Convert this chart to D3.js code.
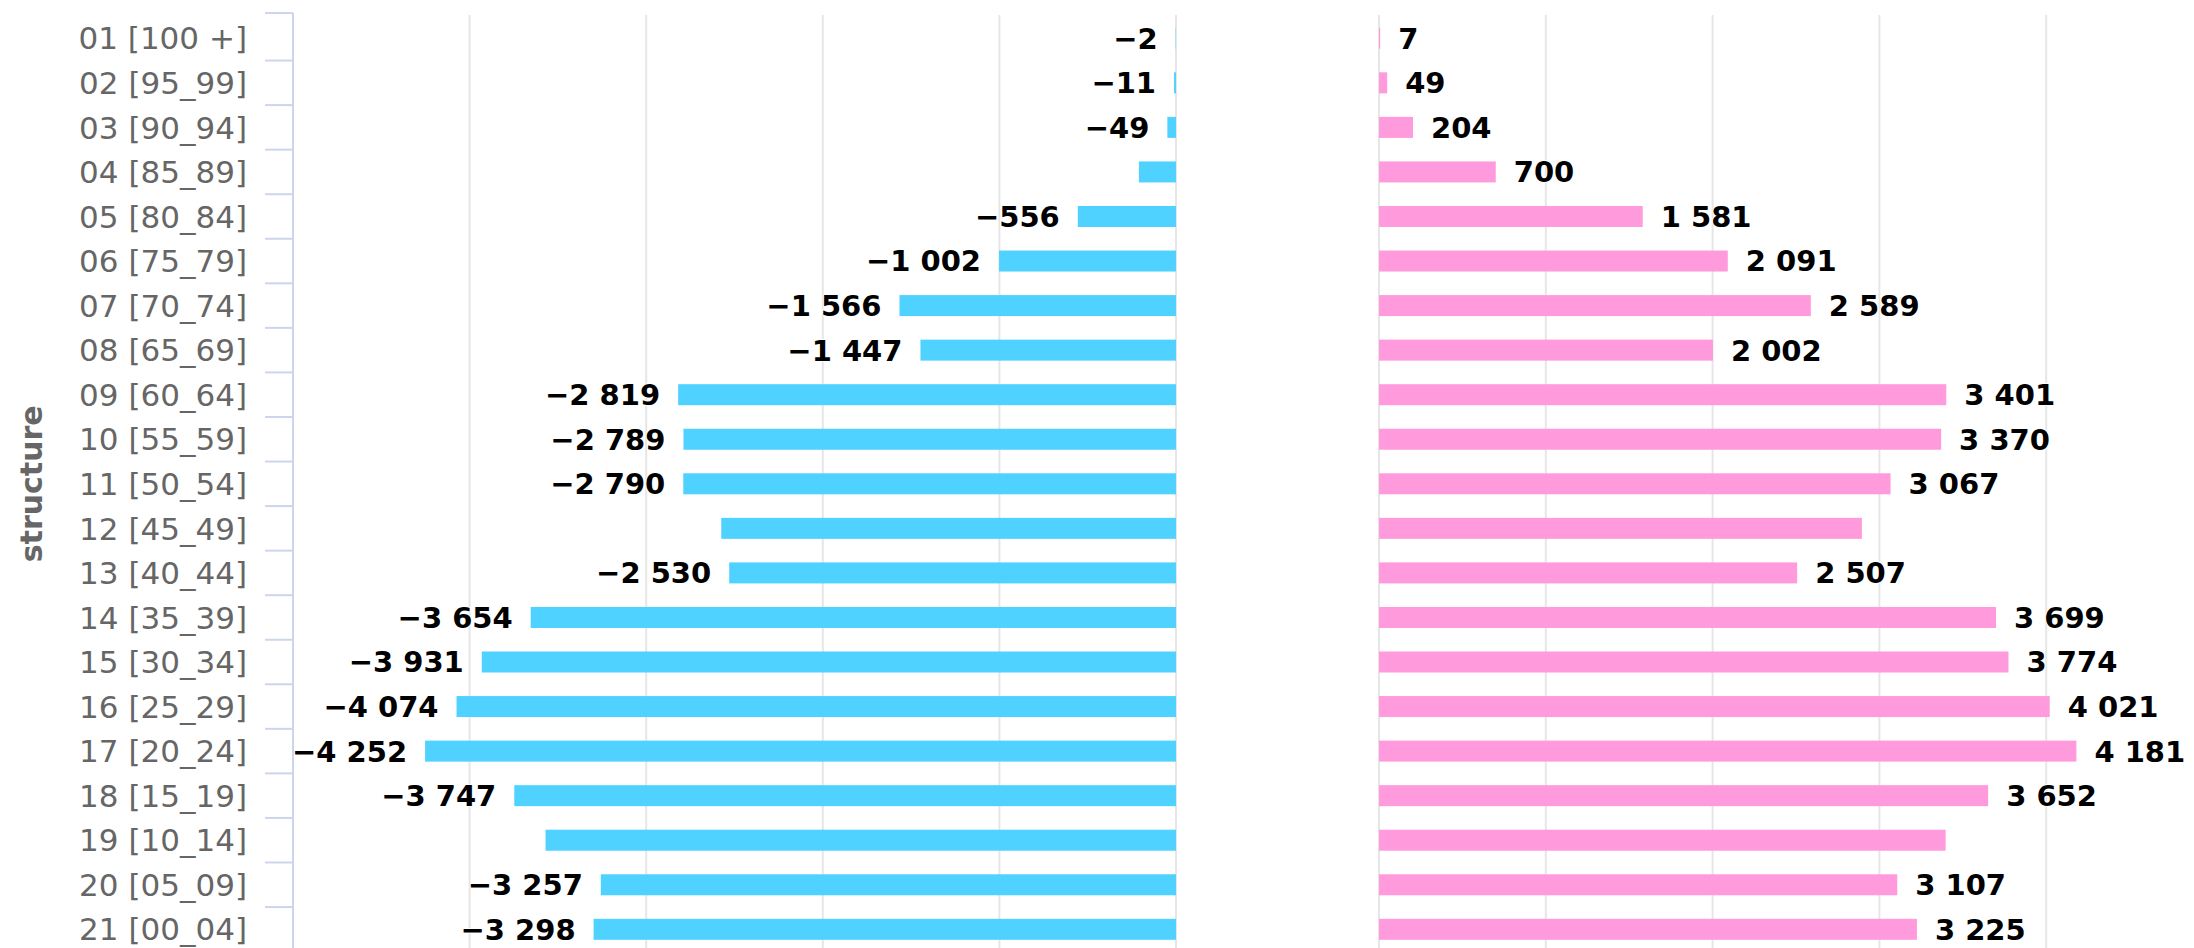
<!DOCTYPE html>
<html>
<head>
<meta charset="utf-8">
<script src="https://cdn.jsdelivr.net/npm/d3@7"></script>
<style>
  body { margin: 0; background: #fff; }
  svg { display: block; font-family: "DejaVu Sans", Verdana, sans-serif; }
</style>
</head>
<body>
<script>
// Age groups, top to bottom
const categories = [
    '01 [100 +]', '02 [95_99]', '03 [90_94]', '04 [85_89]', '05 [80_84]', '06 [75_79]',
    '07 [70_74]', '08 [65_69]', '09 [60_64]', '10 [55_59]', '11 [50_54]', '12 [45_49]',
    '13 [40_44]', '14 [35_39]', '15 [30_34]', '16 [25_29]', '17 [20_24]', '18 [15_19]',
    '19 [10_14]', '20 [05_09]', '21 [00_04]'
];

// Left series (negative) and right series
const male = [-2, -11, -49, -210, -556, -1002, -1566, -1447, -2819, -2789, -2790, -2575,
    -2530, -3654, -3931, -4074, -4252, -3747, -3570, -3257, -3298];
const female = [7, 49, 204, 700, 1581, 2091, 2589, 2002, 3401, 3370, 3067, 2895,
    2507, 3699, 3774, 4021, 4181, 3652, 3397, 3107, 3225];

// Labels that the original chart leaves out (overlap hiding)
const hiddenMale = ['04 [85_89]', '12 [45_49]', '19 [10_14]'];
const hiddenFemale = ['12 [45_49]', '19 [10_14]'];

const leftTicks = [-5000, -4000, -3000, -2000, -1000, 0];
const rightTicks = [0, 1000, 2000, 3000, 4000, 5000];

const width = 2194, height = 948;

const svg = d3.select("body").append("svg")
    .attr("width", width)
    .attr("height", height);

// Scales
const y = d3.scaleBand().domain(categories).range([16, 951.6]);
const xL = d3.scaleLinear().domain([-5000, 0]).range([293, 1176]);
const xR = d3.scaleLinear().domain([0, 5000]).range([1379, 2213]);
const barH = 21;

const fmt = d3.formatLocale({
    decimal: ".", thousands: " ", grouping: [3], currency: ["", ""], minus: "\u2212"
}).format(",");

// Grid lines
const grid = svg.append("g");
grid.selectAll("line.gl")
    .data(leftTicks)
    .enter().append("line")
    .attr("x1", d => xL(d)).attr("x2", d => xL(d))
    .attr("y1", 15).attr("y2", height)
    .attr("stroke", "#e6e6e6").attr("stroke-width", 2);
grid.selectAll("line.gr")
    .data(rightTicks)
    .enter().append("line")
    .attr("x1", d => xR(d)).attr("x2", d => xR(d))
    .attr("y1", 15).attr("y2", height)
    .attr("stroke", "#e6e6e6").attr("stroke-width", 2);

// Category axis
const yAxis = svg.append("g");
yAxis.append("line")
    .attr("x1", 293).attr("x2", 293)
    .attr("y1", 13).attr("y2", height)
    .attr("stroke", "#ccd6eb").attr("stroke-width", 2);

const bounds = categories.map(c => y(c)).concat([y.range()[1]]);
yAxis.selectAll("line.tick")
    .data(bounds)
    .enter().append("line")
    .attr("x1", 265).attr("x2", 293)
    .attr("y1", (d, i) => i === 0 ? 13 : d)
    .attr("y2", (d, i) => i === 0 ? 13 : d)
    .attr("stroke", "#ccd6eb").attr("stroke-width", 2);

yAxis.selectAll("text")
    .data(categories)
    .enter().append("text")
    .attr("x", 247)
    .attr("y", d => y(d) + y.bandwidth() / 2)
    .attr("dy", "0.36em")
    .attr("text-anchor", "end")
    .attr("fill", "#666666")
    .style("font-size", "31px")
    .text(d => d);

svg.append("text")
    .attr("transform", `translate(42, ${(y.range()[0] + y.range()[1]) / 2}) rotate(-90)`)
    .attr("text-anchor", "middle")
    .attr("fill", "#666666")
    .style("font-size", "30px")
    .style("font-weight", "bold")
    .text("structure");

// Bars
const maleData = categories.map((c, i) => ({ cat: c, v: male[i] }));
const femaleData = categories.map((c, i) => ({ cat: c, v: female[i] }));

svg.append("g").selectAll("rect")
    .data(maleData)
    .enter().append("rect")
    .attr("x", d => xL(d.v))
    .attr("y", d => y(d.cat) + y.bandwidth() / 2 - barH / 2)
    .attr("width", d => xL(0) - xL(d.v))
    .attr("height", barH)
    .attr("fill", "#4fd2ff");

svg.append("g").selectAll("rect")
    .data(femaleData)
    .enter().append("rect")
    .attr("x", xR(0))
    .attr("y", d => y(d.cat) + y.bandwidth() / 2 - barH / 2)
    .attr("width", d => xR(d.v) - xR(0))
    .attr("height", barH)
    .attr("fill", "#ff9bdc");

// Data labels
function labels(data, hidden, xPos, anchor) {
    svg.append("g").selectAll("text")
        .data(data.filter(d => !hidden.includes(d.cat)))
        .enter().append("text")
        .attr("x", xPos)
        .attr("y", d => y(d.cat) + y.bandwidth() / 2)
        .attr("dy", "0.36em")
        .attr("text-anchor", anchor)
        .attr("fill", "#000")
        .attr("stroke", "#fff")
        .attr("stroke-width", 2)
        .attr("paint-order", "stroke")
        .style("font-size", "29px")
        .style("font-weight", "bold")
        .text(d => fmt(d.v));
}
labels(maleData, hiddenMale, d => xL(d.v) - 18, "end");
labels(femaleData, hiddenFemale, d => xR(d.v) + 18, "start");
</script>
</body>
</html>
